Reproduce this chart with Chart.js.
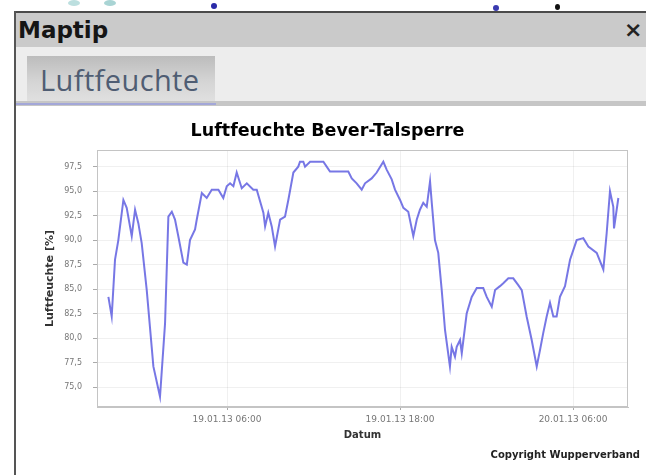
<!DOCTYPE html>
<html><head><meta charset="utf-8">
<script src="https://cdn.jsdelivr.net/npm/chart.js@4/dist/chart.umd.min.js"></script>
<style>
html,body{margin:0;padding:0;background:#fff;width:646px;height:475px;overflow:hidden;font-family:"DejaVu Sans",sans-serif;}
.abs{position:absolute;}
#frameTop{left:14px;top:11px;width:632px;height:2px;background:#4a4a4a;}
#frameLeft{left:14px;top:11px;width:2px;height:464px;background:#555;}
#titlebar{left:16px;top:13px;width:630px;height:34px;background:#cacaca;}
#maptip{left:18px;top:13px;height:34px;line-height:34px;font-weight:bold;font-size:23px;color:#151515;}
#close{left:624px;top:13px;height:34px;line-height:34px;font-weight:bold;font-size:22px;color:#222;}
#toolbar{left:16px;top:47px;width:630px;height:54px;background:#ededed;}
#tab{left:27px;top:56px;width:188px;height:45px;background:linear-gradient(to bottom,#bcbcbc,#d4d4d4 55%,#e0e0e0);}
#tabtext{left:40px;top:56px;height:45px;line-height:47px;font-family:"Open Sans",sans-serif;font-size:29px;letter-spacing:0.4px;color:#4f5d73;}
#sep{left:16px;top:101px;width:630px;height:5px;background:#c6c6c6;}
#sepblue{left:16px;top:103px;width:200px;height:2px;background:#a3a7d8;}
#c{left:15px;top:108px;}
#copy{right:6px;top:449px;font-size:10px;font-weight:bold;color:#222;}
.dot{position:absolute;border-radius:50%;}
</style></head><body>
<div class="dot" style="left:68px;top:0px;width:12px;height:6px;background:#8fc9c9;opacity:.6"></div>
<div class="dot" style="left:104px;top:0px;width:12px;height:6px;background:#6fb8b8;opacity:.6"></div>
<div class="dot" style="left:211px;top:3px;width:6px;height:6px;background:#2a2aa8"></div>
<div class="dot" style="left:493px;top:5px;width:6px;height:6px;background:#3a3ab0"></div>
<div class="dot" style="left:555px;top:4px;width:5px;height:6px;background:#111"></div>
<div class="abs" id="frameTop"></div>
<div class="abs" id="frameLeft"></div>
<div class="abs" id="titlebar"></div>
<div class="abs" id="maptip">Maptip</div>
<div class="abs" id="close">×</div>
<div class="abs" id="toolbar"></div>
<div class="abs" id="tab"></div>
<div class="abs" id="tabtext">Luftfeuchte</div>
<div class="abs" id="sep"></div>
<div class="abs" id="sepblue"></div>
<canvas class="abs" id="c" width="631" height="367"></canvas>
<div class="abs" id="copy">Copyright Wupperverband</div>
<script>
// hours relative to 19.01.13 00:00
const hours = [-2.23,-2.00,-1.77,-1.54,-1.19,-0.96,-0.61,-0.38,-0.15,0.08,0.43,0.89,1.35,1.70,1.93,2.17,2.39,2.62,2.97,3.21,3.43,3.78,3.90,4.25,4.59,4.94,5.40,5.74,5.98,6.21,6.44,6.67,7.02,7.37,7.82,8.06,8.52,8.64,8.86,9.10,9.33,9.68,10.02,10.25,10.60,10.94,11.06,11.29,11.41,11.76,12.68,12.91,13.14,14.41,14.65,14.99,15.34,15.57,16.03,16.38,16.84,17.07,17.42,17.65,18.00,18.23,18.57,18.92,19.16,19.38,19.61,19.85,20.08,20.20,20.42,20.65,20.89,21.12,21.46,21.58,21.81,21.93,22.16,22.28,22.62,22.97,23.32,23.77,24.01,24.36,24.59,24.93,25.16,25.51,25.85,26.20,26.44,26.78,27.13,27.48,27.71,27.93,28.17,28.40,28.63,28.86,29.09,29.44,29.79,30.25,30.71,31.06,31.64,32.10,32.33,32.56,32.79,32.84,33.14];
const humidity = [84.2,82.2,88.0,90.0,94.1,93.3,90.4,93.1,91.7,89.7,84.9,77.1,74.0,81.5,92.4,92.9,92.1,90.4,87.7,87.5,90.0,91.1,92.1,94.8,94.3,95.15,95.15,94.3,95.5,95.8,95.5,96.9,95.3,95.8,95.15,95.15,92.8,91.4,92.8,91.4,89.35,92.1,92.4,94.1,96.9,97.5,98.0,98.0,97.5,98.0,98.0,97.5,97.0,97.0,96.3,95.8,95.15,95.8,96.3,96.9,98.0,97.2,96.2,95.15,94.1,93.3,92.9,90.4,92.1,93.1,93.8,93.4,96.0,93.8,90.0,88.7,84.9,80.8,77.1,79.1,78.1,79.1,79.8,78.45,82.5,84.2,85.1,85.1,84.2,83.2,84.9,85.3,85.6,86.1,86.1,85.4,84.9,82.2,79.8,77.1,78.8,80.5,82.2,83.6,82.2,82.2,84.2,85.3,88.0,90.0,90.2,89.35,88.7,87.0,90.7,95.0,93.4,91.2,94.3];
const yTicks = [75.0,77.5,80.0,82.5,85.0,87.5,90.0,92.5,95.0,97.5];
const xTickHours = [6,18,30];
const xTickLabels = ["19.01.13 06:00","19.01.13 18:00","20.01.13 06:00"];
const chartTitle = "Luftfeuchte Bever-Talsperre";
const yTitle = "Luftfeuchte [%]";
const xTitle = "Datum";

const plotBorder = {
  id:'plotBorder',
  beforeDatasetsDraw(chart){
    const a = chart.chartArea, ctx = chart.ctx;
    ctx.save(); ctx.strokeStyle='#c4c4c4'; ctx.lineWidth=1;
    ctx.strokeRect(Math.round(a.left)+0.5, Math.round(a.top)+0.5, Math.round(a.right-a.left)-1, Math.round(a.bottom-a.top)-1);
    ctx.restore();
  }
};

new Chart(document.getElementById('c'), {
  type:'line',
  data:{datasets:[{
    data: hours.map((h,i)=>({x:h,y:humidity[i]})),
    borderColor:'rgba(85,85,222,0.8)', borderWidth:2, pointRadius:0, tension:0, fill:false
  }]},
  options:{
    responsive:false, animation:false, devicePixelRatio:1,
    layout:{padding:{left:0,right:6,top:0,bottom:26}},
    plugins:{
      legend:{display:false}, tooltip:{enabled:false},
      title:{display:true,text:chartTitle,color:'#000',font:{family:'DejaVu Sans',size:17.5,weight:'bold'},padding:{top:13,bottom:8}}
    },
    scales:{
      x:{type:'linear',min:-3.02,max:33.81,
        afterBuildTicks:s=>{s.ticks = xTickHours.map(v=>({value:v}));},
        afterFit:s=>{s.height=42;},
        ticks:{autoSkip:false,maxRotation:0,color:'#777',font:{family:'DejaVu Sans',size:9},padding:4,
          callback:(v)=>xTickLabels[xTickHours.indexOf(v)]},
        grid:{color:'rgba(0,0,0,0.06)',tickLength:3,tickColor:'#aaa'},
        border:{display:true,color:'#c4c4c4'},
        title:{display:true,text:xTitle,color:'#333',font:{family:'DejaVu Sans',size:10,weight:'bold'},padding:{top:0,bottom:8}}
      },
      y:{type:'linear',min:72.96,max:99.2,
        afterBuildTicks:s=>{s.ticks = yTicks.map(v=>({value:v}));},
        afterFit:s=>{s.width=82;},
        ticks:{color:'#777',font:{family:'DejaVu Sans',size:8},padding:11,
          callback:(v)=>v.toFixed(1).replace('.',',')},
        grid:{color:'rgba(0,0,0,0.06)',tickLength:4,tickColor:'#aaa'},
        border:{display:true,color:'#c4c4c4'},
        title:{display:true,text:yTitle,color:'#333',font:{family:'DejaVu Sans',size:11,weight:'bold'},padding:{top:29,bottom:0}}
      },
      yR:{type:'linear',position:'right',display:true,
        afterFit:s=>{s.width=12;},
        ticks:{display:false},grid:{display:false},border:{display:false}
      }
    }
  },
  plugins:[plotBorder]
});
</script>
</body></html>
